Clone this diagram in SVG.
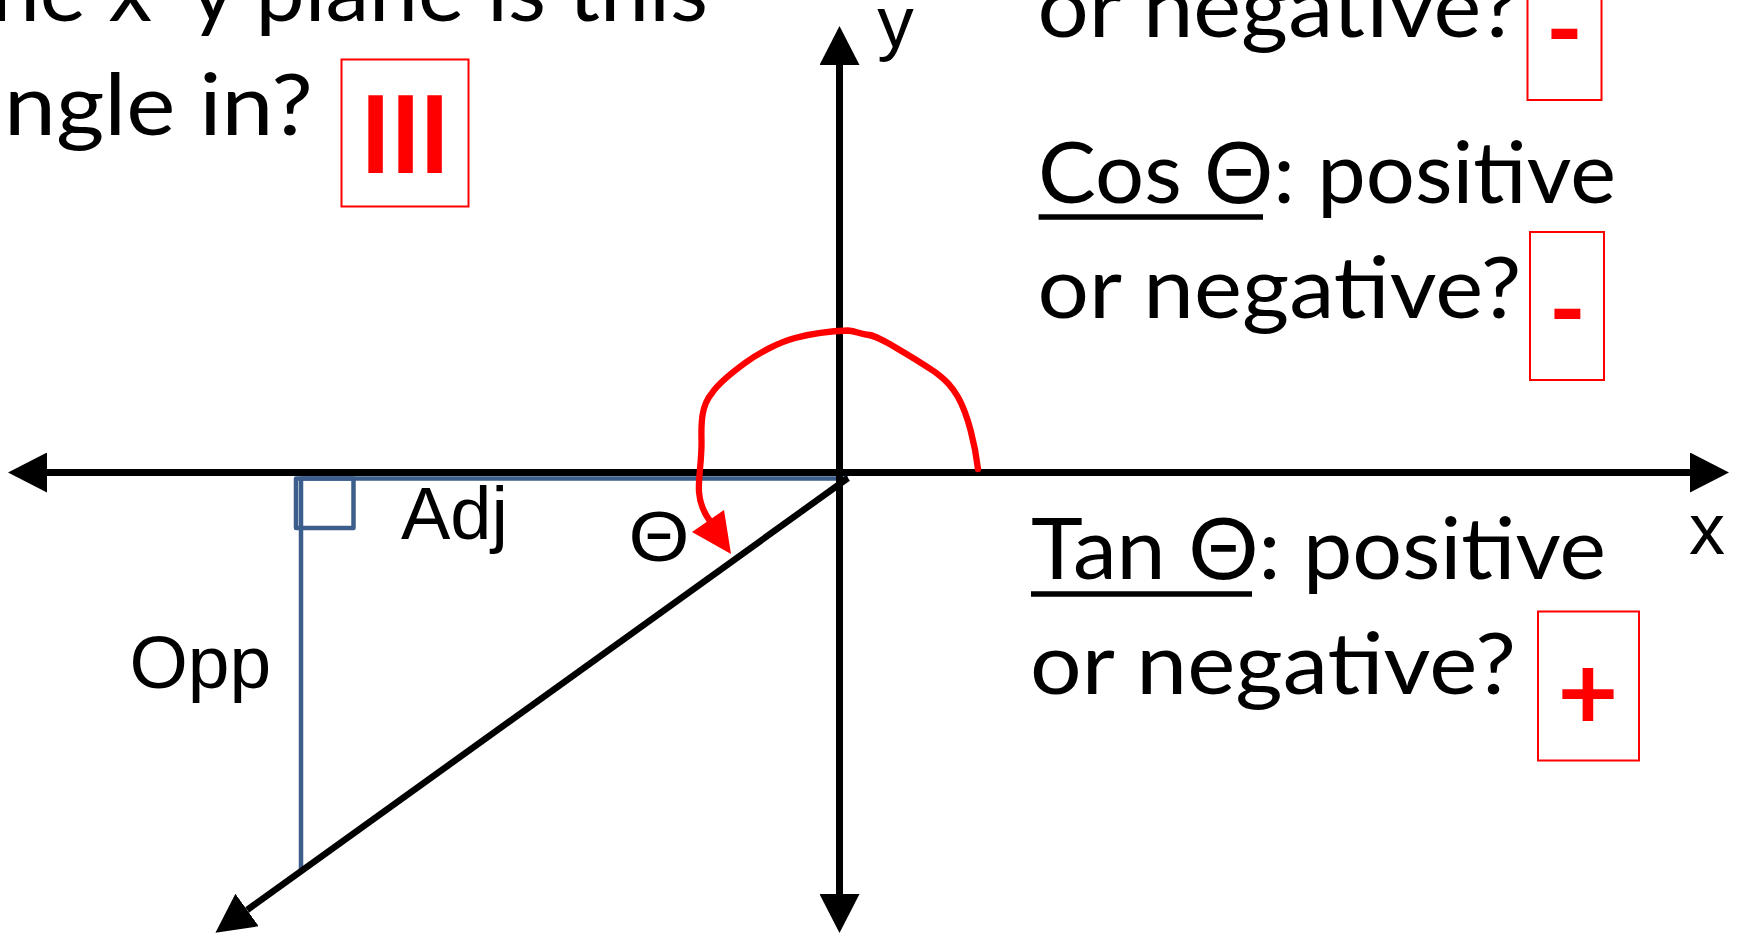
<svg xmlns="http://www.w3.org/2000/svg" width="1739" height="936" viewBox="0 0 1739 936">
<style>
.t{font-family:Lato,'Noto Sans',sans-serif;font-size:86px;fill:#000}
.a{font-family:'Liberation Sans',Arial,sans-serif;fill:#000}
.r{font-family:Lato,'Noto Sans',sans-serif;font-weight:700;fill:#FF0000}
.box{fill:none;stroke:#FF0000;stroke-width:2}
.ax{stroke:#000;stroke-width:7;fill:none}
.ul{stroke:#000;stroke-width:5.7}
.blue{stroke:#3C5E8C;stroke-width:4.5;fill:none;stroke-linejoin:round}
.arc{stroke:#FF0000;stroke-width:6.3;fill:none;stroke-linecap:round;stroke-linejoin:round}
</style>
<defs>
<marker id="ah" viewBox="0 0 40 40" refX="0" refY="20" markerWidth="40" markerHeight="40" markerUnits="userSpaceOnUse" orient="auto-start-reverse">
<path d="M0,0 L39,20 L0,40 z" fill="#000"/>
</marker>
</defs>
<rect width="1739" height="936" fill="#fff"/>

<g id="connectors">
<path class="blue" d="M301,871 V478.5 H848"/>
<rect class="blue" x="296" y="478.5" width="57.5" height="49.5"/>
<path class="ax" d="M47,472.5 H1690" marker-start="url(#ah)" marker-end="url(#ah)"/>
<path class="ax" d="M839.5,894 V65" marker-start="url(#ah)" marker-end="url(#ah)"/>
<path class="ax" style="stroke-width:6.5" d="M848,478 L247.1,910" marker-end="url(#ah)"/>
<path class="arc" d="M978,469 C975,444 968,415 958,397 C952,387 947,381 935,372 C920,362 905,353 893,346 C882,340 875,335 866,334.5 C860,334 856,331 848,330.5 C833,331 810,334 795,338 C780,342 760,352 745,363 C730,374 718,384 712,393 C702,405 701,420 701.5,440 C702,460 698,478 699,492 C700,505 704,513 710,521"/>
<polygon points="692,532 724,510 731,554" fill="#FF0000"/>
</g>

<g id="question">
<text class="t" x="-9" y="20.7" textLength="161" lengthAdjust="spacingAndGlyphs">ne x</text>
<text class="t" x="190" y="20.7" textLength="518" lengthAdjust="spacingAndGlyphs">y plane is this</text>
<text class="t" x="4" y="135" textLength="309" lengthAdjust="spacingAndGlyphs">ngle in?</text>
</g>
<g id="answer-quadrant">
<rect class="box" x="341.5" y="59.5" width="127" height="147"/>
<text class="r" x="375.5 405.5 434.5" y="173" font-size="107" text-anchor="middle">III</text>
</g>

<g id="sin-question">
<text class="t" x="1037.5" y="36.7" textLength="482" lengthAdjust="spacingAndGlyphs">or negative?</text>
</g>
<g id="sin-answer">
<rect class="box" x="1527.5" y="-49" width="74" height="149"/>
<text class="r" x="1564.5" y="64" font-size="100" text-anchor="middle">-</text>
</g>

<g id="cos-question">
<text class="t" x="1038" y="203.3" textLength="578" lengthAdjust="spacingAndGlyphs">Cos Θ: positive</text>
<line class="ul" x1="1038.6" y1="217" x2="1263" y2="217"/>
<text class="t" x="1037.5" y="318.3" textLength="484" lengthAdjust="spacingAndGlyphs">or negative?</text>
</g>
<g id="cos-answer">
<rect class="box" x="1530" y="232" width="74" height="148"/>
<text class="r" x="1567.4" y="344" font-size="100" text-anchor="middle">-</text>
</g>

<g id="tan-question">
<text class="t" x="1031" y="579.3" textLength="575" lengthAdjust="spacingAndGlyphs">Tan Θ: positive</text>
<line class="ul" x1="1031" y1="594" x2="1252" y2="594"/>
<text class="t" x="1030" y="694.3" textLength="486" lengthAdjust="spacingAndGlyphs">or negative?</text>
</g>
<g id="tan-answer">
<rect class="box" x="1538" y="611.5" width="101" height="149"/>
<text class="r" x="1588" y="730" font-size="105" text-anchor="middle">+</text>
</g>

<g id="label-x"><text class="a" x="1707" y="554" font-size="72" text-anchor="middle">x</text></g>
<g id="label-y"><text class="a" x="895.5" y="46.5" font-size="73" text-anchor="middle">y</text></g>
<g id="label-adj"><text class="a" x="401" y="539" font-size="74">Adj</text></g>
<g id="label-opp"><text class="a" x="129.4" y="688" font-size="75">Opp</text></g>
<g id="label-theta"><text class="a" x="659" y="561" font-size="70" text-anchor="middle" transform="translate(659 0) scale(1.12 1) translate(-659 0)">Θ</text></g>
</svg>
